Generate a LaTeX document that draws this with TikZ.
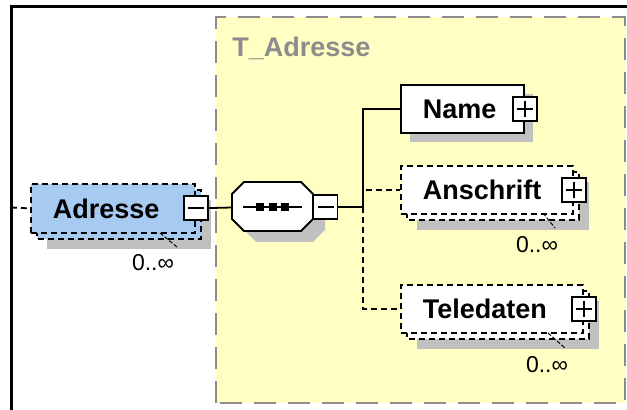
\documentclass[tikz,border=0pt]{standalone}
\usepackage{fontspec}
\setmainfont{Liberation Sans}
\definecolor{elemblue}{RGB}{166,202,240}
\definecolor{typeyellow}{RGB}{255,255,196}
\definecolor{shadowgray}{RGB}{192,192,192}
\definecolor{framegray}{RGB}{140,140,140}

\begin{document}
\begin{tikzpicture}[x=0.5pt, y=-0.5pt,
  elem/.style={draw, line width=0.9pt, fill=white, align=left, anchor=north west,
    inner xsep=11pt, inner ysep=0pt, minimum height=24pt,
    font=\bfseries\fontsize{13.5}{16}\selectfont},
  optional/.style={dash pattern=on 3pt off 2pt},
  minusbox/.style={draw, line width=0.9pt, fill=white, minimum size=12pt, inner sep=0pt,
    path picture={\draw[line width=0.9pt] ([xshift=2pt]path picture bounding box.west)
      -- ([xshift=-2pt]path picture bounding box.east);}},
  plusbox/.style={draw, line width=0.9pt, fill=white, minimum size=12pt, inner sep=0pt,
    path picture={\draw[line width=0.9pt] ([xshift=2pt]path picture bounding box.west)
      -- ([xshift=-2pt]path picture bounding box.east)
      ([yshift=-2pt]path picture bounding box.north)
      -- ([yshift=2pt]path picture bounding box.south);}},
  card/.style={font=\fontsize{11.5}{14}\selectfont, inner sep=0pt},
  tick/.style={line width=0.5pt, dash pattern=on 2pt off 1pt}]
  \useasboundingbox (0,0) rectangle (627,410);
  % frame and complex type
  \fill[typeyellow] (216,17) rectangle (625,403);
  \draw[framegray, line width=1pt, dash pattern=on 11pt off 6pt]
    (216,403) -- (216,17) -- (625,17) -- (625,403) -- cycle;
  \draw[line width=1.5pt] (11,410) -- (11,7) -- (627,7);
  \node[anchor=base west, inner sep=0pt, text=framegray,
    font=\bfseries\fontsize{13.5}{16}\selectfont] (typename) at (232,57) {T\_Adresse};

  % Adresse element
  \fill[shadowgray] (47,200) rectangle (211,249);
  \filldraw[fill=elemblue, line width=0.9pt, optional] (37,190) rectangle (201,239);
  \node[elem, optional, fill=elemblue, text width=60pt, minimum height=24.5pt] (adresse) at (30,183) {Adresse};
  \node[minusbox] (adressepm) at (adresse.east) {};
  \draw[tick] (160,233) -- (177,247);
  \node[card] (adressecard) at (153,263) {0..∞};
  \coordinate (entry) at (11,207.5);
  \draw[line width=0.9pt, optional] (entry) -- (adresse.west);

  % sequence compositor
  \fill[shadowgray, shift={(12,11)}] (244,182) -- (301,182) -- (313,194) -- (313,219)
    -- (301,231) -- (244,231) -- (232,219) -- (232,194) -- cycle;
  \filldraw[fill=white, line width=0.9pt] (244,182) -- (301,182) -- (313,194) -- (313,219)
    -- (301,231) -- (244,231) -- (232,219) -- (232,194) -- cycle;
  \coordinate (seqin) at (232,207.5);
  \draw[line width=0.9pt] (243,207) -- (302,207);
  \foreach \sx in {260,272.5,285}
    \fill (\sx-4,203) rectangle (\sx+4,211);
  \node[minusbox] (seqpm) at (325.5,207) {};
  \draw[line width=0.9pt] (adressepm) -- (seqin);
  \coordinate (bus) at (363,207);
  \draw[line width=0.9pt] (seqpm) -- (bus);

  % Name
  \fill[shadowgray] (410,94) rectangle (533,142);
  \node[elem, text width=39.5pt] (name) at (400,84) {Name};
  \node[plusbox] (namepm) at (name.east) {};
  \draw[line width=0.9pt] (bus) |- (name.west);

  % Anschrift
  \fill[shadowgray] (417,182) rectangle (589,230);
  \filldraw[fill=white, line width=0.9pt, optional] (407,172) rectangle (579,220);
  \node[elem, optional, text width=64pt] (anschrift) at (400,165) {Anschrift};
  \node[plusbox] (anschriftpm) at (anschrift.east) {};
  \draw[tick] (543,213) -- (555,228);
  \node[card] (anschriftcard) at (537,245) {0..∞};
  \draw[line width=0.9pt, optional] (bus) |- (anschrift.west);

  % Teledaten
  \fill[shadowgray] (417,301) rectangle (599,349);
  \filldraw[fill=white, line width=0.9pt, optional] (407,291) rectangle (589,339);
  \node[elem, optional, text width=69pt] (teledaten) at (400,284) {Teledaten};
  \node[plusbox] (teledatenpm) at (teledaten.east) {};
  \draw[tick] (548,333) -- (565,348);
  \node[card] (teledatencard) at (547,365) {0..∞};
  \draw[line width=0.9pt, optional] (bus) |- (teledaten.west);
\end{tikzpicture}
\end{document}
